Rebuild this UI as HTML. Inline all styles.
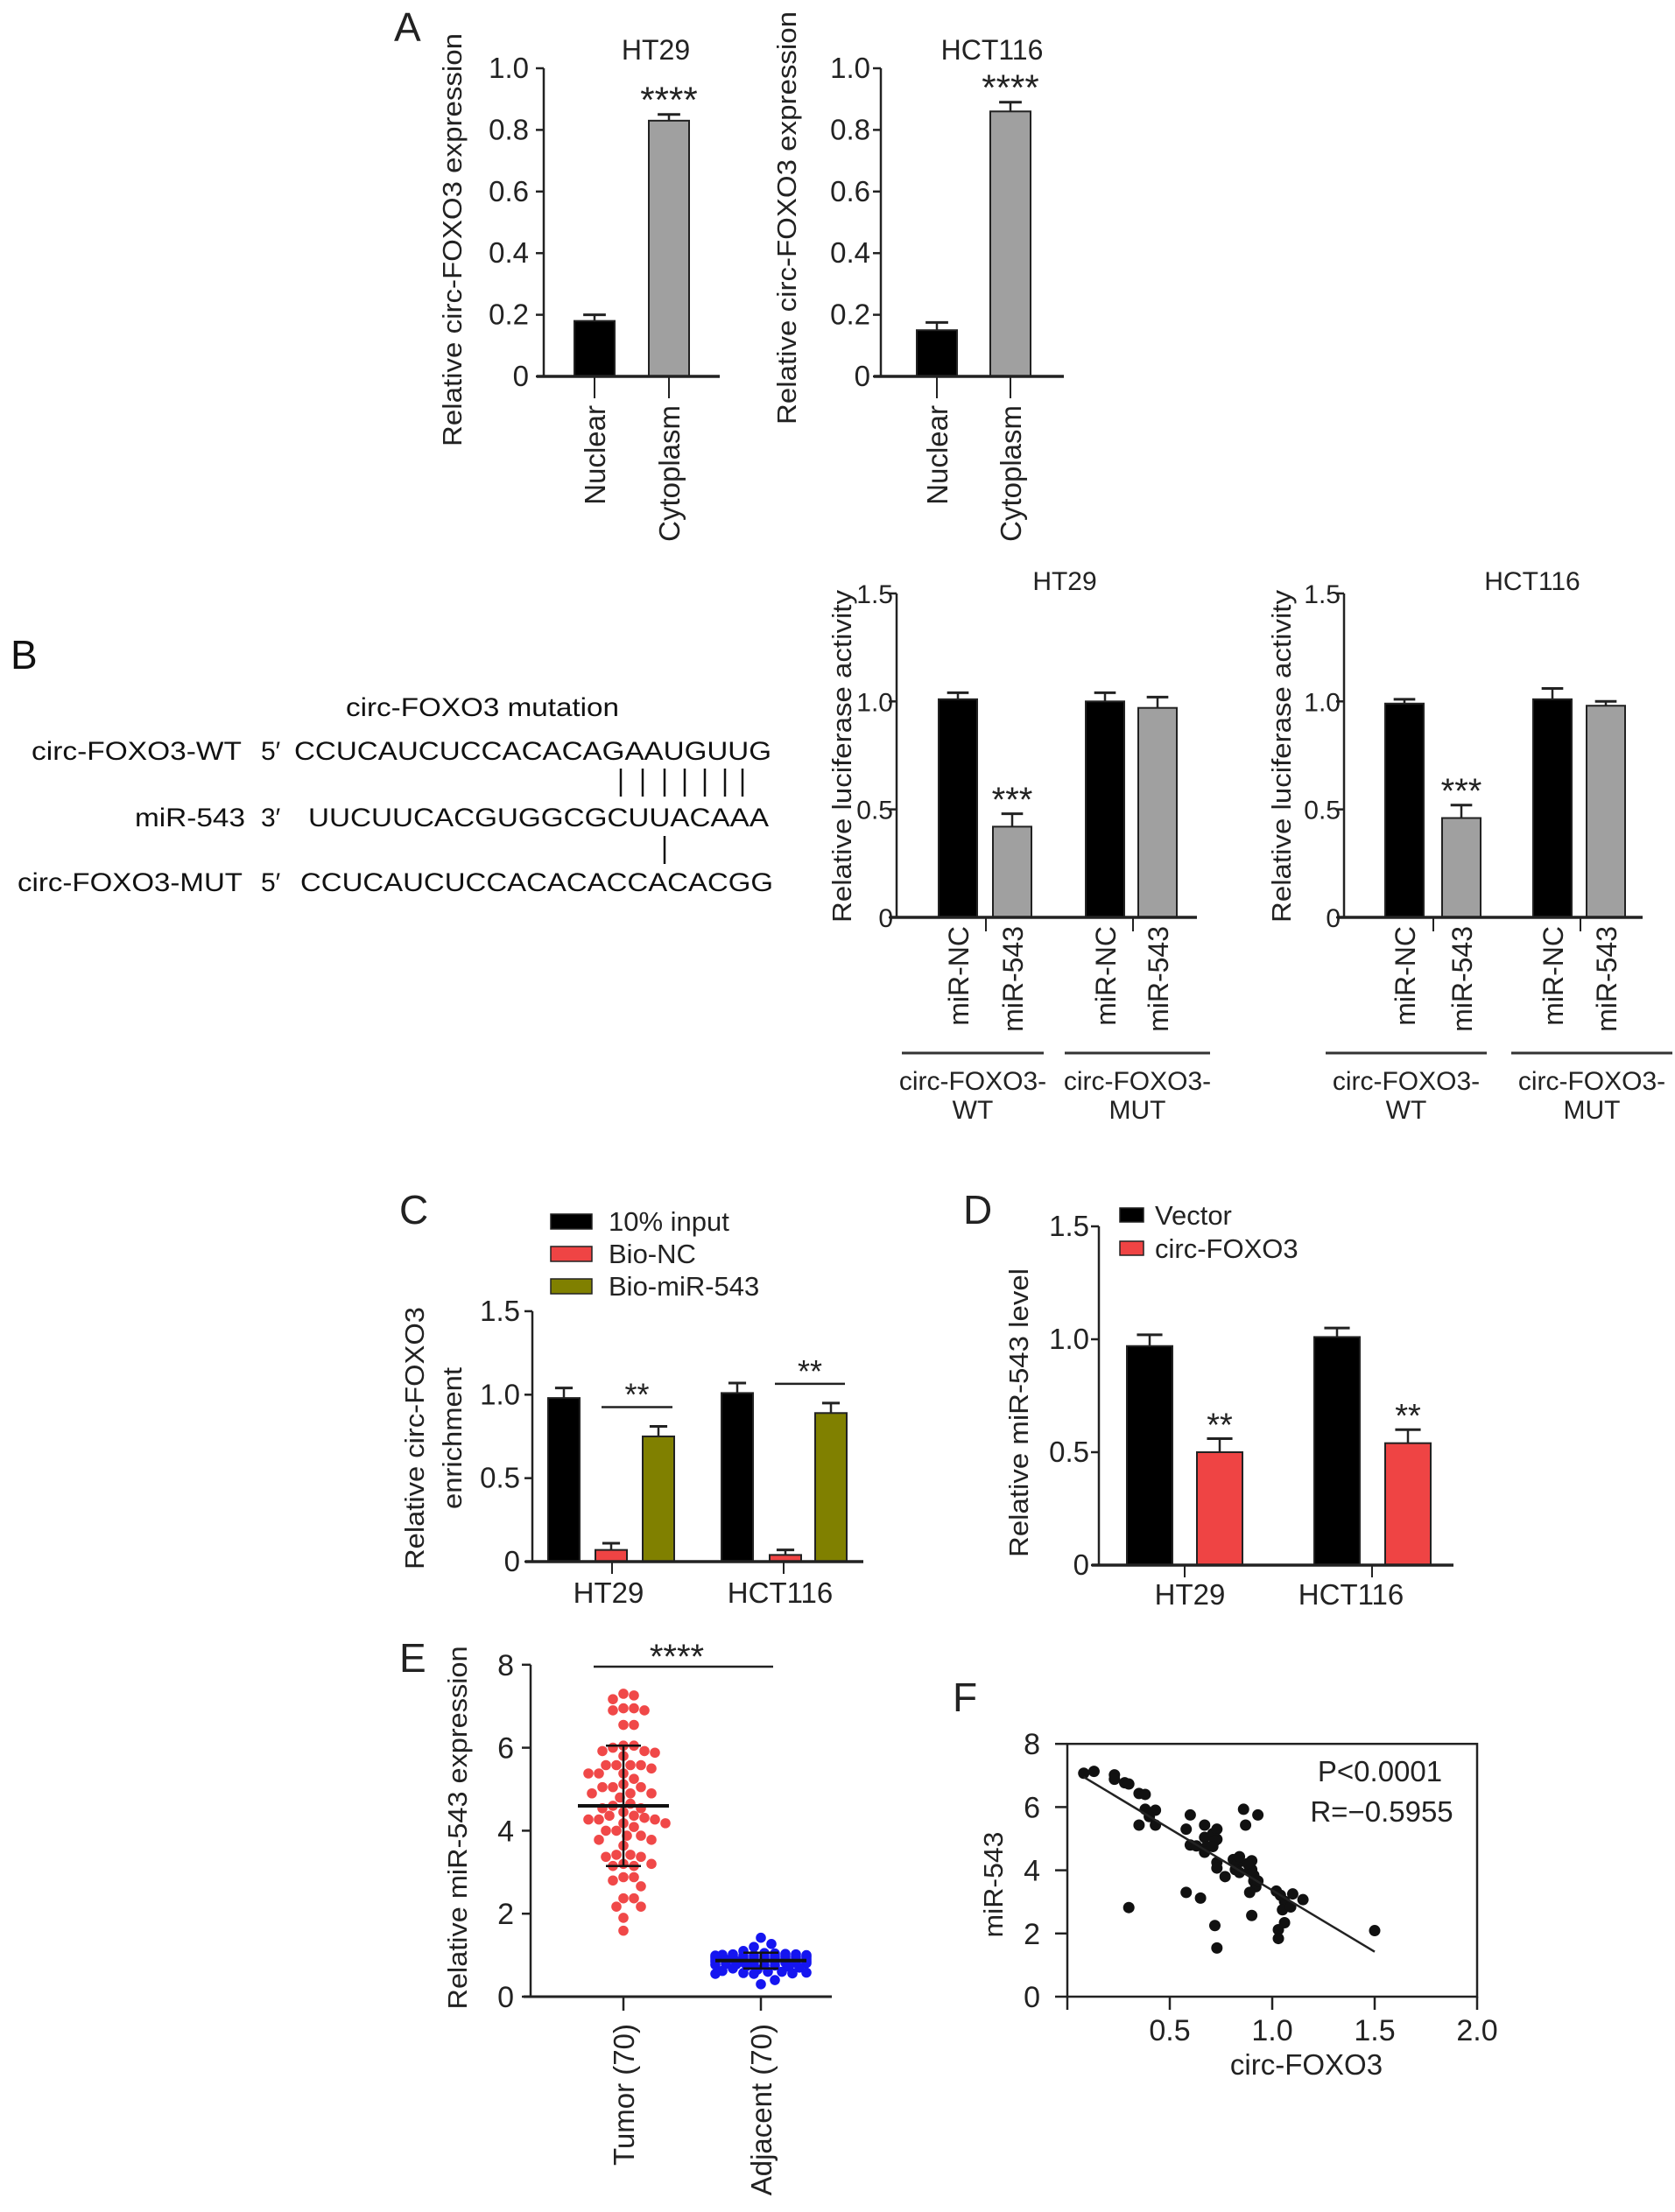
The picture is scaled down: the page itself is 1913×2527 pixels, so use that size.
<!DOCTYPE html>
<html><head><meta charset="utf-8"><style>
html,body{margin:0;padding:0;background:#fff;}
svg{display:block;font-family:"Liberation Sans",Arial,sans-serif;}
</style></head><body>
<svg id="fig" xmlns="http://www.w3.org/2000/svg" width="1913" height="2527" viewBox="0 0 1913 2527">
<rect width="1913" height="2527" fill="#fff"/>
<g id="panelB-seq" font-size="30" fill="#111">
  <text x="12" y="764" font-size="46">B</text>
  <text x="551" y="818" text-anchor="middle" textLength="312" lengthAdjust="spacingAndGlyphs">circ-FOXO3 mutation</text>
  <text x="276" y="868" text-anchor="end" textLength="240" lengthAdjust="spacingAndGlyphs">circ-FOXO3-WT</text>
  <text x="298" y="868">5′</text>
  <text x="336" y="868" textLength="545" lengthAdjust="spacingAndGlyphs">CCUCAUCUCCACACAGAAUGUUG</text>
  <text x="280" y="944" text-anchor="end" textLength="126" lengthAdjust="spacingAndGlyphs">miR-543</text>
  <text x="298" y="944">3′</text>
  <text x="352" y="944" textLength="526" lengthAdjust="spacingAndGlyphs">UUCUUCACGUGGCGCUUACAAA</text>
  <text x="277" y="1018" text-anchor="end" textLength="257" lengthAdjust="spacingAndGlyphs">circ-FOXO3-MUT</text>
  <text x="298" y="1018">5′</text>
  <text x="343" y="1018" textLength="540" lengthAdjust="spacingAndGlyphs">CCUCAUCUCCACACACCACACGG</text>
  <g stroke="#111" stroke-width="2.5">
    <line x1="709" y1="878" x2="709" y2="910"/><line x1="734" y1="878" x2="734" y2="910"/>
    <line x1="759" y1="878" x2="759" y2="910"/><line x1="782" y1="878" x2="782" y2="910"/>
    <line x1="805" y1="878" x2="805" y2="910"/><line x1="828" y1="878" x2="828" y2="910"/>
    <line x1="848" y1="878" x2="848" y2="910"/>
    <line x1="759" y1="955" x2="759" y2="987"/>
  </g>
</g>
</svg>
<script>
// ---------- Data ----------
const aCategories = ["Nuclear", "Cytoplasm"];
const aHT29Values = [0.18, 0.83];
const aHT29Errors = [0.02, 0.02];
const aHCT116Values = [0.15, 0.86];
const aHCT116Errors = [0.025, 0.03];
const aTicks = [0, 0.2, 0.4, 0.6, 0.8, 1.0];
const aTickLabels = ["0", "0.2", "0.4", "0.6", "0.8", "1.0"];

const bCategories = ["miR-NC", "miR-543", "miR-NC", "miR-543"];
const bHT29Values = [1.01, 0.42, 1.00, 0.97];
const bHT29Errors = [0.03, 0.06, 0.04, 0.05];
const bHCT116Values = [0.99, 0.46, 1.01, 0.98];
const bHCT116Errors = [0.02, 0.06, 0.05, 0.02];
const bTicks = [0, 0.5, 1.0, 1.5];
const bTickLabels = ["0", "0.5", "1.0", "1.5"];

const cGroups = ["HT29", "HCT116"];
const cSeries = ["10% input", "Bio-NC", "Bio-miR-543"];
const cInput = [0.98, 1.01];
const cInputErr = [0.06, 0.06];
const cBioNC = [0.07, 0.04];
const cBioNCErr = [0.04, 0.03];
const cBioMiR = [0.75, 0.89];
const cBioMiRErr = [0.06, 0.06];

const dGroups = ["HT29", "HCT116"];
const dSeries = ["Vector", "circ-FOXO3"];
const dVector = [0.97, 1.01];
const dVectorErr = [0.05, 0.04];
const dCirc = [0.50, 0.54];
const dCircErr = [0.06, 0.06];

const eCategories = ["Tumor (70)", "Adjacent (70)"];
const eTicks = [0, 2, 4, 6, 8];
const eTumor = [7.26,7.3,7.17,6.95,6.95,6.9,6.9,6.55,6.55,6.05,6.05,6.0,5.92,5.92,5.88,5.8,5.58,5.58,5.58,5.58,5.5,5.38,5.38,5.38,5.25,5.12,5.05,5.05,5.05,4.9,4.9,4.9,4.8,4.65,4.6,4.54,4.54,4.45,4.36,4.36,4.31,4.27,4.27,4.27,4.18,4.18,4.09,4.0,4.0,3.88,3.88,3.78,3.78,3.64,3.42,3.42,3.37,3.37,3.2,3.2,3.15,3.15,2.88,2.88,2.8,2.66,2.37,2.37,2.17,2.17,1.9,1.59];
const eAdjacent = [1.42,1.27,1.2,1.1,1.05,1.04,1.03,1.02,1.02,1.01,1.0,1.0,0.99,0.99,0.98,0.98,0.97,0.97,0.96,0.96,0.95,0.95,0.94,0.94,0.93,0.93,0.92,0.92,0.91,0.91,0.9,0.9,0.89,0.89,0.88,0.88,0.87,0.87,0.86,0.86,0.85,0.85,0.84,0.84,0.83,0.83,0.82,0.82,0.81,0.8,0.79,0.78,0.77,0.76,0.75,0.74,0.72,0.7,0.68,0.65,0.62,0.6,0.6,0.58,0.57,0.56,0.55,0.55,0.4,0.3];
const eTumorMean = 4.6, eTumorSD = 1.45;
const eAdjMean = 0.87, eAdjSD = 0.19;

const fX = [0.08,0.13,0.23,0.23,0.28,0.30,0.35,0.38,0.35,0.38,0.40,0.43,0.43,0.40,0.30,0.58,0.60,0.58,0.60,0.63,0.65,0.67,0.67,0.68,0.67,0.71,0.73,0.73,0.72,0.71,0.73,0.73,0.72,0.73,0.77,0.81,0.83,0.82,0.84,0.86,0.87,0.90,0.90,0.91,0.91,0.93,0.92,0.89,0.90,0.93,1.02,1.04,1.06,1.05,1.09,1.10,1.15,1.03,1.03,1.06,1.50,0.89,0.88,0.84];
const fY = [7.07,7.13,7.02,6.88,6.77,6.73,6.43,6.40,5.43,5.93,5.79,5.90,5.43,5.70,2.82,3.30,5.75,5.30,4.80,4.77,3.12,5.43,5.04,4.75,4.57,5.16,5.30,4.98,4.93,4.75,4.25,4.07,2.25,1.54,3.80,4.34,4.21,4.02,3.93,5.93,5.43,4.30,4.02,3.84,3.66,5.75,3.48,3.30,2.57,3.66,3.34,3.21,3.02,2.75,2.84,3.25,3.07,2.12,1.84,2.34,2.09,4.02,4.21,4.43];
const fFitStart = [0.08, 6.95];
const fFitEnd = [1.5, 1.42];
const fXTicks = [0.5, 1.0, 1.5, 2.0];
const fYTicks = [0, 2, 4, 6, 8];

// ---------- Helpers ----------
const NS = "http://www.w3.org/2000/svg";
const svg = document.getElementById("fig");
function el(tag, attrs, parent) {
  const e = document.createElementNS(NS, tag);
  for (const k in attrs) e.setAttribute(k, attrs[k]);
  (parent || svg).appendChild(e);
  return e;
}
function txt(s, attrs, parent) { const t = el("text", attrs, parent); t.textContent = s; return t; }

function barChart(cfg) {
  const g = el("g", {});
  
  
  const y = v => cfg.y0 - v * cfg.ppu;
  const ax = el("line", {x1: cfg.ax, y1: y(cfg.ymax), x2: cfg.ax, y2: cfg.y0, stroke: "#222", "stroke-width": 2.5}, g);
  
  
  cfg.ticks.forEach((t, i) => {
    el("line", {x1: cfg.ax - 9, y1: y(t), x2: cfg.ax, y2: y(t), stroke: "#222", "stroke-width": 2.5}, g);
    const tl = txt(cfg.tickLabels[i], {x: cfg.tlx, y: y(t) + 11, "text-anchor": "end", "font-size": cfg.tfs || 33, fill: "#222"}, g);
    
    
  });
  cfg.bars.forEach((b, i) => {
    const top = y(b.v);
    const eb = y(b.v + b.e);
    el("line", {x1: b.cx, y1: top, x2: b.cx, y2: eb, stroke: "#222", "stroke-width": 2.5}, g);
    el("line", {x1: b.cx - b.w * 0.28, y1: eb, x2: b.cx + b.w * 0.28, y2: eb, stroke: "#222", "stroke-width": 3}, g);
    const r = el("rect", {x: b.cx - b.w / 2, y: top, width: b.w, height: cfg.y0 - top, fill: b.fill, stroke: "#222", "stroke-width": 2}, g);
    
    
    if (b.star) {
      const s = txt(b.star, {x: b.cx, y: eb + (cfg.sfs || 40) * 0.18 - 10, "text-anchor": "middle", "font-size": cfg.sfs || 40, fill: "#222"}, g);
      
      
    }
  });
  const xa = el("line", {x1: cfg.ax - 8, y1: cfg.y0, x2: cfg.xend, y2: cfg.y0, stroke: "#222", "stroke-width": 3.5}, g);
  
  
  return {g, y};
}
function ylabel(lines, cx, cy, len, fs) {
  lines.forEach(L => {
    const t = txt(L.s, {x: 0, y: 0, transform: `translate(${L.x},${cy}) rotate(-90)`, "text-anchor": "middle", "font-size": fs || 31, fill: "#222", textLength: L.len, lengthAdjust: "spacingAndGlyphs"});
    
    
  });
}
function vlabel(s, cx, ytop, fs, name) {
  const t = txt(s, {x: 0, y: 0, transform: `translate(${cx + 12},${ytop}) rotate(-90)`, "text-anchor": "end", "font-size": fs || 32, fill: "#222"});
  
  
}
function label(s, x, y, fs, anchor, name) {
  const t = txt(s, {x, y, "font-size": fs || 30, "text-anchor": anchor || "middle", fill: "#222"});
  
  
  return t;
}

// ---------- Panel A ----------
label("A", 450, 47, 46, "start", "panel-label-a");
const aCenters1 = [679, 764], aCenters2 = [1070, 1154];
[[aHT29Values, aHT29Errors, 621, 604, 822, aCenters1, "HT29", 749],
 [aHCT116Values, aHCT116Errors, 1006, 994, 1215, aCenters2, "HCT116", 1133]].forEach((c, k) => {
  barChart({name: k ? "chart-a-hct116" : "chart-a-ht29", ax: c[2], tlx: c[3], xend: c[4], y0: 430, ppu: 352, ymax: 1.0,
    ticks: aTicks, tickLabels: aTickLabels, tfs: 33, sfs: 42,
    bars: c[0].map((v, i) => ({cx: c[5][i], w: 46, v, e: c[1][i], fill: i ? "#a0a0a0" : "#000", star: i ? "****" : ""}))});
  label(c[6], c[7], 68, 32, "middle", "chart-title");
  c[5].forEach((cx, i) => {
    el("line", {x1: cx, y1: 430, x2: cx, y2: 455, stroke: "#222", "stroke-width": 2});
    vlabel(aCategories[i], cx, 463, 33);
  });
});
ylabel([{s: "Relative circ-FOXO3 expression", x: 527, len: 472}], 0, 274);
ylabel([{s: "Relative circ-FOXO3 expression", x: 909, len: 472}], 0, 249);

// ---------- Panel B charts ----------
[[bHT29Values, bHT29Errors, 1024, 1020, 1367, [1094, 1156, 1262, 1322], "HT29", 1216, [1126, 1294], [[1030, 1192], [1216, 1382]]],
 [bHCT116Values, bHCT116Errors, 1535, 1531, 1876, [1604, 1669, 1773, 1834], "HCT116", 1750, [1637, 1805], [[1514, 1698], [1726, 1910]]]].forEach((c, k) => {
  barChart({name: k ? "chart-b-hct116" : "chart-b-ht29", ax: c[2], tlx: c[3], xend: c[4], y0: 1048, ppu: 246.7, ymax: 1.5,
    ticks: bTicks, tickLabels: bTickLabels, tfs: 30, sfs: 40,
    bars: c[0].map((v, i) => ({cx: c[5][i], w: 44, v, e: c[1][i], fill: i % 2 ? "#a0a0a0" : "#000", star: i === 1 ? "***" : ""}))});
  label(c[6], c[7], 674, 30, "middle", "chart-title");
  c[8].forEach(x => el("line", {x1: x, y1: 1048, x2: x, y2: 1064, stroke: "#222", "stroke-width": 2}));
  c[5].forEach((cx, i) => vlabel(bCategories[i], cx, 1058, 32));
  c[9].forEach((r, i) => {
    const ln = el("line", {x1: r[0], y1: 1203, x2: r[1], y2: 1203, stroke: "#333", "stroke-width": 3});
    
    
    const cx = (r[0] + r[1]) / 2;
    label("circ-FOXO3-", cx, 1245, 30, "middle", "group-label");
    label(i ? "MUT" : "WT", cx, 1278, 30, "middle", "group-label");
  });
});
ylabel([{s: "Relative luciferase activity", x: 972, len: 380}], 0, 864);
ylabel([{s: "Relative luciferase activity", x: 1474, len: 380}], 0, 864);

// ---------- Panel C ----------
label("C", 456, 1398, 46, "start", "panel-label-c");
const cColors = ["#000", "#ef4444", "#808000"];
const cCenters = [[644, 698, 752], [842, 897, 949]];
const cBars = [];
cGroups.forEach((g, gi) => {
  [[cInput, cInputErr], [cBioNC, cBioNCErr], [cBioMiR, cBioMiRErr]].forEach((s, si) => {
    cBars.push({cx: cCenters[gi][si], w: 36, v: s[0][gi], e: s[1][gi], fill: cColors[si]});
  });
});
barChart({name: "chart-c", ax: 608, tlx: 594, xend: 986, y0: 1784, ppu: 190.7, ymax: 1.5, ticks: bTicks, tickLabels: bTickLabels, bars: cBars, tfs: 33});
[[699, "HT29", [687, 768]], [895, "HCT116", [885, 965]]].forEach((c, gi) => {
  el("line", {x1: c[0], y1: 1784, x2: c[0], y2: 1798, stroke: "#222", "stroke-width": 2});
  label(c[1], c[0] - 4, 1831, 33, "middle", "x-category-label");
  const yb = 1784 - (cBioMiR[gi] + cBioMiRErr[gi]) * 190.7 - 22;
  const ln = el("line", {x1: c[2][0], y1: yb, x2: c[2][1], y2: yb, stroke: "#222", "stroke-width": 2.5});
  
  
  label("**", (c[2][0] + c[2][1]) / 2, yb - 2, 36, "middle", "significance-stars");
});
cSeries.forEach((s, i) => {
  const yy = 1395 + i * 37;
  const r = el("rect", {x: 629, y: yy - 8, width: 47, height: 17, fill: cColors[i], stroke: "#222", "stroke-width": 1.5});
  
  
  label(s, 695, yy + 11, 31, "start", "legend-entry");
});
ylabel([{s: "Relative circ-FOXO3", x: 484, len: 300}, {s: "enrichment", x: 527, len: 162}], 0, 1643);

// ---------- Panel D ----------
label("D", 1100, 1398, 46, "start", "panel-label-d");
const dCenters = [[1313, 1393], [1527, 1608]];
const dBars = [];
dGroups.forEach((g, gi) => {
  dBars.push({cx: dCenters[gi][0], w: 52, v: dVector[gi], e: dVectorErr[gi], fill: "#000"});
  dBars.push({cx: dCenters[gi][1], w: 52, v: dCirc[gi], e: dCircErr[gi], fill: "#ef4444", star: "**"});
});
barChart({name: "chart-d", ax: 1255, tlx: 1244, xend: 1660, y0: 1788, ppu: 258, ymax: 1.5, ticks: bTicks, tickLabels: bTickLabels, bars: dBars, sfs: 38, tfs: 33});
[[1353, "HT29", 1359], [1567, "HCT116", 1543]].forEach(c => {
  el("line", {x1: c[0], y1: 1788, x2: c[0], y2: 1802, stroke: "#222", "stroke-width": 2});
  label(c[1], c[2], 1833, 33, "middle", "x-category-label");
});
dSeries.forEach((s, i) => {
  const yy = 1388 + i * 38;
  const r = el("rect", {x: 1279, y: yy - 8, width: 27, height: 16, fill: i ? "#ef4444" : "#000", stroke: "#222", "stroke-width": 1.5});
  
  
  label(s, 1319, yy + 11, 31, "start", "legend-entry");
});
ylabel([{s: "Relative miR-543 level", x: 1174, len: 330}], 0, 1614);

// ---------- Panel E ----------
label("E", 456, 1910, 46, "start", "panel-label-e");
(function () {
  const g = el("g", {});
  
  
  const y0 = 2281, ppu = 47.4, ax = 606;
  const y = v => y0 - v * ppu;
  el("line", {x1: ax, y1: y(8), x2: ax, y2: y0, stroke: "#222", "stroke-width": 2.5}, g);
  eTicks.forEach(t => {
    el("line", {x1: ax - 10, y1: y(t), x2: ax, y2: y(t), stroke: "#222", "stroke-width": 2.5}, g);
    const tl = txt(String(t), {x: 587, y: y(t) + 12, "text-anchor": "end", "font-size": 34, fill: "#222"}, g);
    
    
  });
  el("line", {x1: ax - 8, y1: y0, x2: 950, y2: y0, stroke: "#222", "stroke-width": 3}, g);
  const centers = [712, 869];
  function swarm(vals, cx, color, maxOff) {
    const r = 5.8, placed = [];
    const sorted = vals.slice().sort((a, b) => b - a);
    sorted.forEach(v => {
      const py = y(v);
      let best = null, bestOv = 1e9;
      for (let k = 0; k <= 40; k++) {
        const off = (k % 2 ? 1 : -1) * Math.ceil(k / 2) * 4;
        if (Math.abs(off) > maxOff) continue;
        let ov = 0;
        placed.forEach(p => { const d = Math.hypot(p[0] - (cx + off), p[1] - py); if (d < 2 * r) ov += 2 * r - d; });
        if (ov === 0) { best = off; break; }
        if (ov < bestOv) { bestOv = ov; best = off; }
      }
      placed.push([cx + best, py]);
      const c = el("circle", {cx: cx + best, cy: py, r: r, fill: color}, g);
      
      
    });
  }
  swarm(eTumor, centers[0], "#f04848", 52);
  swarm(eAdjacent, centers[1], "#1515f0", 52);
  [[centers[0], eTumorMean, eTumorSD], [centers[1], eAdjMean, eAdjSD]].forEach(m => {
    el("line", {x1: m[0] - 52, y1: y(m[1]), x2: m[0] + 52, y2: y(m[1]), stroke: "#111", "stroke-width": 4}, g);
    el("line", {x1: m[0], y1: y(m[1] + m[2]), x2: m[0], y2: y(m[1] - m[2]), stroke: "#111", "stroke-width": 2.5}, g);
    el("line", {x1: m[0] - 20, y1: y(m[1] + m[2]), x2: m[0] + 20, y2: y(m[1] + m[2]), stroke: "#111", "stroke-width": 2.5}, g);
    el("line", {x1: m[0] - 20, y1: y(m[1] - m[2]), x2: m[0] + 20, y2: y(m[1] - m[2]), stroke: "#111", "stroke-width": 2.5}, g);
  });
  centers.forEach((cx, i) => {
    el("line", {x1: cx, y1: y0, x2: cx, y2: y0 + 16, stroke: "#222", "stroke-width": 2.5}, g);
    vlabel(eCategories[i], cx, 2312, 33);
  });
  const sl = el("line", {x1: 678, y1: 1904, x2: 883, y2: 1904, stroke: "#222", "stroke-width": 2.5}, g);
  
  
  label("****", 773, 1906, 40, "middle", "significance-stars");
})();
ylabel([{s: "Relative miR-543 expression", x: 533, len: 415}], 0, 2088, 32);

// ---------- Panel F ----------
label("F", 1088, 1955, 46, "start", "panel-label-f");
(function () {
  const g = el("g", {});
  
  
  const x0 = 1219, xppu = 234, y0 = 2281, yppu = 36.1;
  const X = v => x0 + v * xppu, Y = v => y0 - v * yppu;
  el("rect", {x: X(0), y: Y(8), width: X(2) - X(0), height: Y(0) - Y(8), fill: "none", stroke: "#222", "stroke-width": 2.5}, g);
  fYTicks.forEach(t => {
    el("line", {x1: X(0) - 14, y1: Y(t), x2: X(0), y2: Y(t), stroke: "#222", "stroke-width": 2.5}, g);
    const tl = txt(String(t), {x: 1188, y: Y(t) + 12, "text-anchor": "end", "font-size": 34, fill: "#222"}, g);
    
    
  });
  [0].concat(fXTicks).forEach(t => el("line", {x1: X(t), y1: Y(0), x2: X(t), y2: Y(0) + 15, stroke: "#222", "stroke-width": 2.5}, g));
  fXTicks.forEach(t => {
    const tl = txt(t.toFixed(1), {x: X(t), y: 2331, "text-anchor": "middle", "font-size": 34, fill: "#222"}, g);
    
    
  });
  fX.forEach((xv, i) => {
    const c = el("circle", {cx: X(xv), cy: Y(fY[i]), r: 6.5, fill: "#111"}, g);
    
    
  });
  const fl = el("line", {x1: X(fFitStart[0]), y1: Y(fFitStart[1]), x2: X(fFitEnd[0]), y2: Y(fFitEnd[1]), stroke: "#222", "stroke-width": 2.5}, g);
  
  
  label("P<0.0001", 1576, 2035, 33, "middle", "p-value-annotation");
  label("R=−0.5955", 1578, 2081, 33, "middle", "r-value-annotation");
  label("circ-FOXO3", 1492, 2370, 33, "middle", "x-axis-title");
})();
ylabel([{s: "miR-543", x: 1145, len: 121}], 0, 2153, 32);
</script>
</body></html>
